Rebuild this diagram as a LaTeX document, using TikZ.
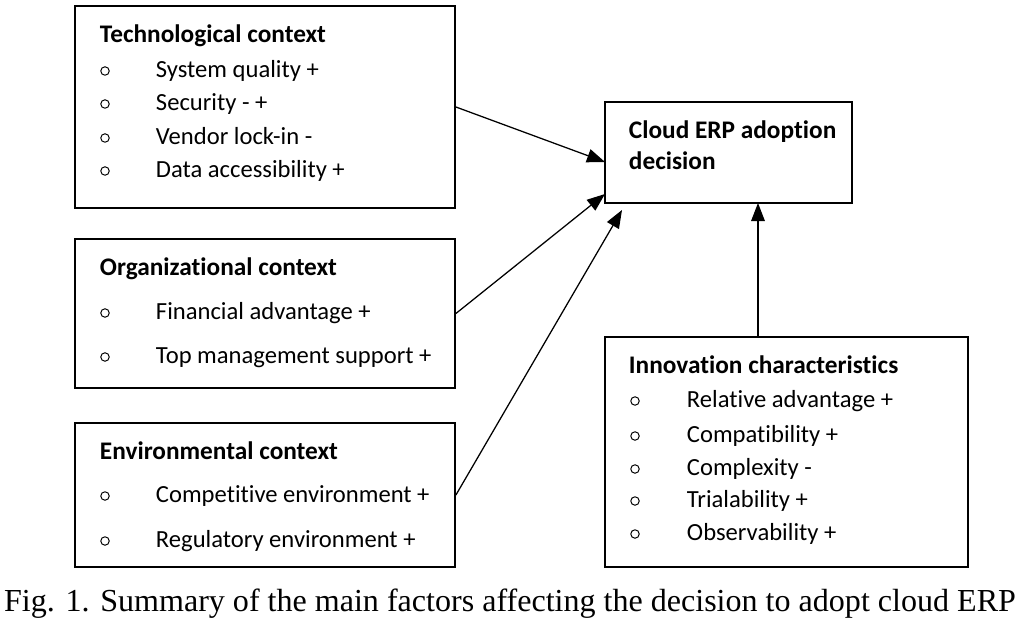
\documentclass[tikz,border=0pt]{standalone}
\usepackage{fontspec}
\setmainfont[Ligatures=NoCommon]{Carlito}
\newfontfamily\capfont{Liberation Serif}
\usetikzlibrary{arrows.meta,fit}
\tikzset{
  box/.style={draw,line width=1.3pt,inner sep=0pt},
  head/.style={anchor=west,text height=1.4ex,text depth=0.45ex,font=\fontsize{18}{20}\selectfont\bfseries},
  item/.style={anchor=west,text height=1.4ex,text depth=0.45ex,font=\fontsize{17.5}{20}\selectfont},
  dot/.style={circle,draw,line width=0.7pt,inner sep=0pt,minimum size=6pt},
  arr/.style={line width=0.9pt,-{Triangle[length=0.45cm,width=0.34cm]}}
}
\begin{document}
\begin{tikzpicture}[x=0.025cm,y=-0.025cm]
    \useasboundingbox (0,0) rectangle (1021,630);
    % boxes
    \node[box,fit={(75,6) (455,208)}] (tech) {};
    \node[box,fit={(75,239) (455,388)}] (org) {};
    \node[box,fit={(75,423) (455,567)}] (env) {};
    \node[box,fit={(605,102) (852,203)}] (cloud) {};
    \node[box,fit={(605,337) (968,567)}] (innov) {};
    % technological
    \node[head] (techtitle) at (95,39) {Technological context};
    \foreach \y/\t [count=\i] in {70/System quality +,103/Security - +,137/Vendor lock-in -,170/Data accessibility +}{
      \node[dot] (techdot\i) at (105,\y+1) {};
      \node[item] (techitem\i) at (151,\y+4) {\t};
    }
    % organizational
    \node[head] (orgtitle) at (95,272) {Organizational context};
    \foreach \y/\t [count=\i] in {312/Financial advantage +,356/Top management support +}{
      \node[dot] (orgdot\i) at (105,\y+1) {};
      \node[item] (orgitem\i) at (151,\y+4) {\t};
    }
    % environmental
    \node[head] (envtitle) at (95,456) {Environmental context};
    \foreach \y/\t [count=\i] in {495/Competitive environment +,540/Regulatory environment +}{
      \node[dot] (envdot\i) at (105,\y+1) {};
      \node[item] (envitem\i) at (151,\y+4) {\t};
    }
    % innovation
    \node[head] (innovtitle) at (624,370) {Innovation characteristics};
    \foreach \y/\t [count=\i] in {400/Relative advantage +,435/Compatibility +,468/Complexity -,500/Trialability +,533/Observability +}{
      \node[dot] (innovdot\i) at (635,\y+1) {};
      \node[item] (innovitem\i) at (682,\y+4) {\t};
    }
    % decision
    \node[head] (cloudtitle) at (624,135) {Cloud ERP adoption};
    \node[head] (cloudtitle2) at (624,166) {decision};
    % arrows
    \coordinate (in1) at (605,162);
    \coordinate (in2) at (605,194);
    \coordinate (in3) at (622,210);
    \coordinate (in4) at (758,203);
    \coordinate (out4) at (758,337);
    \draw[arr] (tech.east) -- (in1);
    \draw[arr] (org.east) -- (in2);
    \draw[arr] (env.east) -- (in3);
    \draw[arr] (out4) -- (in4);
    % caption
    \node[font=\capfont\fontsize{22.8}{26}\selectfont] (caption) at (510,604) {Fig. 1. Summary of the main factors affecting the decision to adopt cloud ERP};
\end{tikzpicture}
\end{document}
